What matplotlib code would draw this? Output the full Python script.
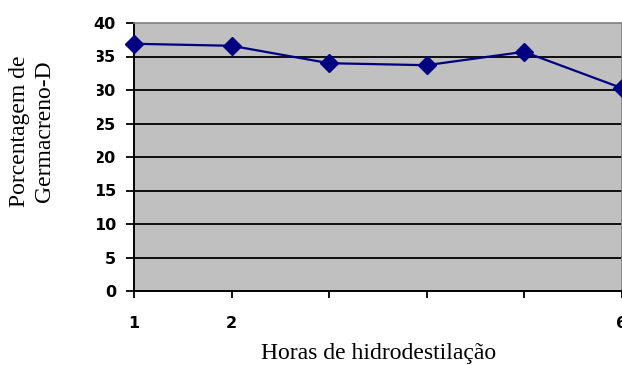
import matplotlib
matplotlib.use("Agg")
import matplotlib.pyplot as plt
from matplotlib.patches import Rectangle

# Germacrene-D content per hour of hydrodistillation
horas = [1, 2, 3, 4, 5, 6]
rotulos_x = ["1", "2", "", "", "", "6"]
germacreno = [36.9, 36.6, 34.0, 33.7, 35.7, 30.3]
yticks = [0, 5, 10, 15, 20, 25, 30, 35, 40]

W, H, DPI = 622, 365, 100
fig = plt.figure(figsize=(W / DPI, H / DPI), dpi=DPI)
ax = fig.add_axes([134 / W, 1 - 291 / H, (621.5 - 134) / W, (291 - 23) / H])

ax.set_facecolor("#C0C0C0")
ax.set_xlim(1, 6)
ax.set_ylim(0, 40)

for y in yticks[1:-1]:
    ax.axhline(y, color="black", lw=1.3, zorder=1)

ax.plot(horas, germacreno, color="#000080", lw=1.6, marker="D",
        markersize=9, clip_on=False, zorder=3)

ax.set_xticks(horas)
ax.set_xticklabels(rotulos_x)
ax.set_yticks(yticks)
ax.set_yticklabels([str(v) for v in yticks])

for lbl in ax.get_xticklabels() + ax.get_yticklabels():
    lbl.set_fontfamily("DejaVu Sans")
    lbl.set_fontweight("bold")
    lbl.set_fontsize(11.5)

ax.tick_params(axis="y", direction="out", length=6, width=1.3, pad=7)
ax.tick_params(axis="x", direction="out", length=5, width=1.3, pad=13)

for side in ("left", "bottom"):
    ax.spines[side].set_color("black")
    ax.spines[side].set_linewidth(1.4)
for side in ("top", "right"):
    ax.spines[side].set_color("#808080")
    ax.spines[side].set_linewidth(1.2)

# the chart block's left margin cuts into the wider y labels
fig.add_artist(Rectangle((85 / W, 1 - 296 / H), 12 / W, 262 / H,
                         transform=fig.transFigure, facecolor="white",
                         edgecolor="none", zorder=5))

fig.text(379 / W, 1 - 359 / H, "Horas de hidrodestilação",
         family="Liberation Serif", size=17, ha="center", va="baseline",
         zorder=6)
fig.text(32 / W, 1 - 131 / H, "Porcentagem de\nGermacreno-D",
         family="Liberation Serif", size=17, ha="center", va="center",
         rotation=90, multialignment="center", linespacing=1.3, zorder=6)

fig.savefig("out.png", dpi=DPI)
